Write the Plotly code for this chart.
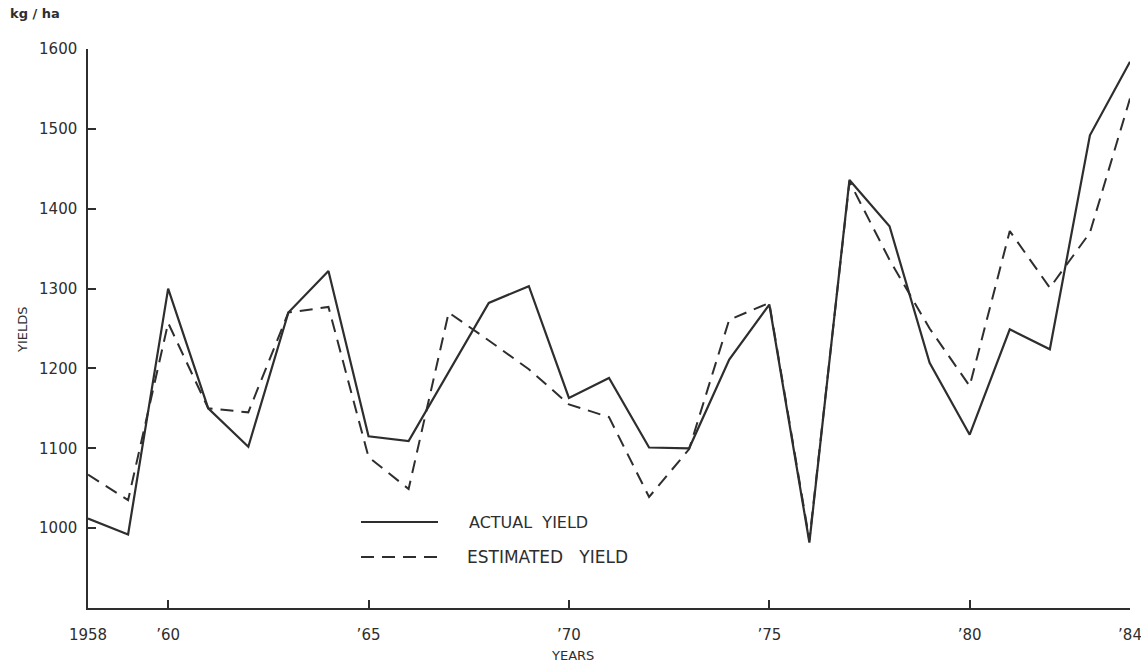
import plotly.graph_objects as go

years = list(range(1958, 1985))
actual_yield = [1012, 992, 1300, 1150, 1102, 1270, 1322, 1115, 1109, 1195,
                1282, 1303, 1163, 1188, 1101, 1100, 1211, 1280, 982, 1436,
                1378, 1207, 1117, 1249, 1224, 1492, 1584]
estimated_yield = [1067, 1035, 1257, 1150, 1145, 1270, 1277, 1089, 1049, 1270,
                   1235, 1199, 1155, 1139, 1039, 1099, 1261, 1282, 985, 1434,
                   1336, 1250, 1178, 1372, 1301, 1370, 1538]
x_tickvals = [1958, 1960, 1965, 1970, 1975, 1980, 1984]
x_ticktext = ["1958", "\u201960", "\u201965", "\u201970", "\u201975", "\u201980", "\u201984"]
y_tickvals = [1000, 1100, 1200, 1300, 1400, 1500, 1600]
y_ticktext = ["1000", "1100", "1200", "1300", "1400", "1500", "1600"]

ink = "#2e2e2e"
font = "DejaVu Sans"

fig = go.Figure()
fig.add_trace(go.Scatter(x=years, y=actual_yield, mode="lines", name="ACTUAL YIELD",
                         line=dict(color=ink, width=2.2), showlegend=False))
fig.add_trace(go.Scatter(x=years, y=estimated_yield, mode="lines", name="ESTIMATED YIELD",
                         line=dict(color=ink, width=2, dash="13px,8px"), showlegend=False))

W, H = 1141, 663
ml, mr, mt, mb = 88, 11, 49, 55
pw, ph = W - ml - mr, H - mt - mb

def px(xp):
    return (xp - ml) / pw

def py(yp):
    return (H - mb - yp) / ph

shapes = [
    dict(type="line", xref="paper", yref="paper", x0=px(361), x1=px(438), y0=py(522), y1=py(522),
         line=dict(color=ink, width=2.2)),
    dict(type="line", xref="paper", yref="paper", x0=px(361), x1=px(440), y0=py(557), y1=py(557),
         line=dict(color=ink, width=2, dash="13px,8px")),
]
annotations = [
    dict(text="ACTUAL  YIELD", xref="paper", yref="paper", x=px(467), y=py(522),
         xanchor="left", yanchor="middle", showarrow=False, font=dict(family=font, size=16, color=ink)),
    dict(text="ESTIMATED   YIELD", xref="paper", yref="paper", x=px(465), y=py(557),
         xanchor="left", yanchor="middle", showarrow=False, font=dict(family=font, size=17, color=ink)),
    dict(text="<b>kg / ha</b>", xref="paper", yref="paper", x=px(8), y=py(13),
         xanchor="left", yanchor="middle", showarrow=False, font=dict(family=font, size=13, color=ink)),
    dict(text="YIELDS", xref="paper", yref="paper", x=px(22), y=py(330), textangle=-90,
         xanchor="center", yanchor="middle", showarrow=False, font=dict(family=font, size=13, color=ink)),
    dict(text="YEARS", xref="paper", yref="paper", x=px(572), y=py(655),
         xanchor="center", yanchor="middle", showarrow=False, font=dict(family=font, size=13, color=ink)),
]

fig.update_layout(
    width=W, height=H,
    margin=dict(l=ml, r=mr, t=mt, b=mb),
    paper_bgcolor="white", plot_bgcolor="white",
    font=dict(family=font, size=15, color=ink),
    shapes=shapes, annotations=annotations,
    xaxis=dict(range=[1958, 1984], tickvals=x_tickvals, ticktext=x_ticktext,
               ticks="inside", ticklen=8, tickwidth=1.5, tickcolor=ink,
               showline=True, linecolor=ink, linewidth=1.5, showgrid=False, zeroline=False,
               automargin=False, ticklabelstandoff=12, ticklabeloverflow="allow"),
    yaxis=dict(range=[900, 1600], tickvals=y_tickvals, ticktext=y_ticktext,
               ticks="inside", ticklen=8, tickwidth=1.5, tickcolor=ink,
               showline=True, linecolor=ink, linewidth=1.5, showgrid=False, zeroline=False,
               automargin=False, ticklabelstandoff=6),
)

fig.write_html("out.html", config={"displayModeBar": False},
               post_script="document.body.style.margin='0';document.body.style.overflow='hidden';")
